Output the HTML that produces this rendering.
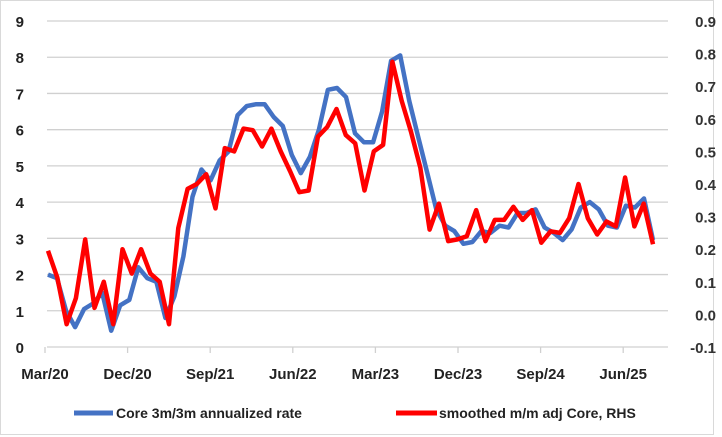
<!DOCTYPE html>
<html><head><meta charset="utf-8"><style>
html,body{margin:0;padding:0;background:#fff;}
svg{display:block;font-family:"Liberation Sans",sans-serif;font-weight:bold;}
</style></head><body>
<svg id="chart" width="722" height="437" viewBox="0 0 722 437">
<rect x="0.5" y="0.5" width="713" height="434" fill="#fff" stroke="#d9d9d9"/>
<g id="grid"></g><g id="axes"></g><g id="series"></g>
<g>
<line x1="74" y1="413" x2="113" y2="413" stroke="#4472c4" stroke-width="5"/>
<text x="116" y="418" font-size="14" fill="#222">Core 3m/3m annualized rate</text>
<line x1="396" y1="413" x2="437" y2="413" stroke="#ff0000" stroke-width="5"/>
<text x="439" y="418" font-size="14" fill="#222">smoothed m/m adj Core, RHS</text>
</g>
</svg>
<script>
const xLabels=["Mar/20","Dec/20","Sep/21","Jun/22","Mar/23","Dec/23","Sep/24","Jun/25"];
const leftTicks=[0,1,2,3,4,5,6,7,8,9];
const rightTicks=["-0.1","0.0","0.1","0.2","0.3","0.4","0.5","0.6","0.7","0.8","0.9"];
const coreRate=[2.0,1.9,1.0,0.55,1.05,1.2,1.5,0.45,1.15,1.3,2.2,1.9,1.8,0.8,1.4,2.5,4.15,4.9,4.6,5.15,5.4,6.4,6.65,6.7,6.7,6.35,6.1,5.3,4.8,5.25,6.0,7.1,7.15,6.9,5.9,5.65,5.65,6.5,7.9,8.05,6.8,5.8,4.8,3.8,3.35,3.2,2.85,2.9,3.2,3.15,3.35,3.3,3.7,3.7,3.8,3.3,3.15,2.95,3.25,3.85,4.0,3.8,3.35,3.3,3.9,3.85,4.1,2.95];
const smoothed=[0.195,0.113,-0.03,0.05,0.23,0.02,0.10,-0.03,0.20,0.125,0.20,0.125,0.10,-0.03,0.265,0.385,0.40,0.43,0.325,0.51,0.50,0.57,0.565,0.515,0.57,0.50,0.44,0.375,0.38,0.545,0.575,0.63,0.55,0.525,0.38,0.50,0.52,0.775,0.655,0.56,0.45,0.26,0.34,0.225,0.23,0.24,0.32,0.225,0.29,0.29,0.33,0.29,0.32,0.22,0.255,0.25,0.295,0.40,0.295,0.245,0.285,0.27,0.42,0.27,0.34,0.215];
const NS="http://www.w3.org/2000/svg";
const X0=47,X1=668,Y0=347,Y9=21;
const yL=v=>Y0+(Y9-Y0)*v/9;
const yR=v=>Y0+(Y9-Y0)*(v+0.1)/1.0;
const xI=(i,n)=>48+i*(653-48)/(n-1);
function mk(tag,attrs,parent){const e=document.createElementNS(NS,tag);for(const k in attrs)e.setAttribute(k,attrs[k]);parent.appendChild(e);return e;}
const grid=document.getElementById('grid'),axes=document.getElementById('axes'),series=document.getElementById('series');
leftTicks.forEach((v,i)=>{
  if(i>0){const g=mk('line',{x1:X0,x2:X1,y1:yL(v),y2:yL(v),stroke:'#d0d0d0','stroke-width':1.3},grid);
  
  }
  const t=mk('text',{x:24,y:yL(v)+6,'font-size':15,'text-anchor':'end',fill:'#222'},axes);t.textContent=v;
  
  
});
rightTicks.forEach((s,i)=>{
  const t=mk('text',{x:716,y:yR(parseFloat(s))+6,'font-size':15,'text-anchor':'end',fill:'#333'},axes);t.textContent=s;
  
  
});
const ax=mk('line',{x1:X0,x2:X1,y1:Y0,y2:Y0,stroke:'#d0d0d0','stroke-width':1.3},axes);


xLabels.forEach((s,i)=>{
  const x=45+i*82.6;
  const tk=mk('line',{x1:x,x2:x,y1:Y0,y2:Y0+6,stroke:'#d0d0d0','stroke-width':1.3},axes);
  
  
  const t=mk('text',{x:x,y:379,'font-size':15,'text-anchor':'middle',fill:'#222'},axes);t.textContent=s;
  
  
});
const pb=mk('polyline',{points:coreRate.map((v,i)=>xI(i,coreRate.length).toFixed(1)+','+yL(v).toFixed(1)).join(' '),fill:'none',stroke:'#4472c4','stroke-width':4.5,'stroke-linejoin':'round'},series);


const pr=mk('polyline',{points:smoothed.map((v,i)=>xI(i,smoothed.length).toFixed(1)+','+yR(v).toFixed(1)).join(' '),fill:'none',stroke:'#ff0000','stroke-width':4.5,'stroke-linejoin':'round'},series);


</script>
</body></html>
